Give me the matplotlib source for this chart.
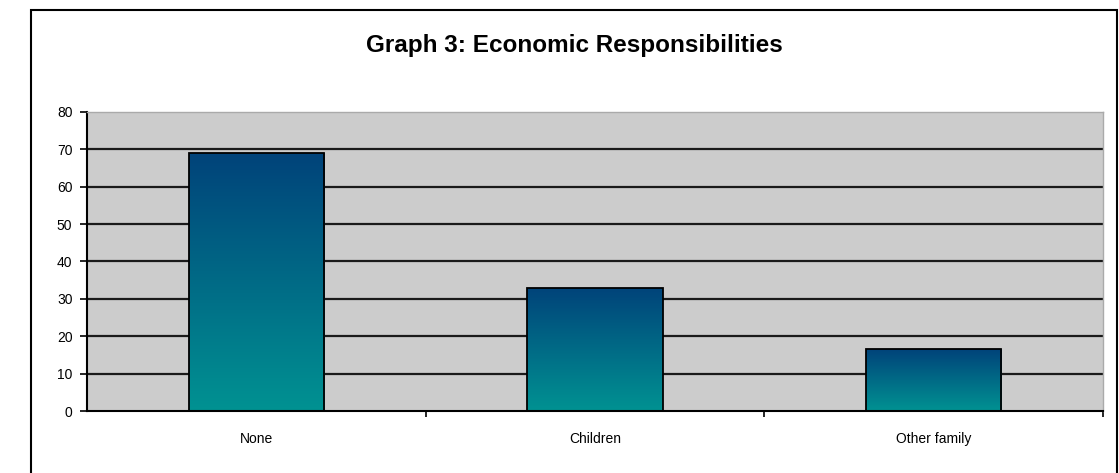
import numpy as np
import matplotlib.pyplot as plt
from matplotlib.colors import LinearSegmentedColormap
from matplotlib.patches import Rectangle

categories = ["None", "Children", "Other family"]
values = [69, 33, 16.5]
yticks = [0, 10, 20, 30, 40, 50, 60, 70, 80]

plt.rcParams['font.family'] = ['Liberation Sans', 'DejaVu Sans']

fig = plt.figure(figsize=(11.19, 4.73), dpi=100)

# outer chart border
fig.patches.append(Rectangle((31 / 1119, -0.01), (1117 - 31) / 1119, 1 - 10 / 473 + 0.01,
                             transform=fig.transFigure, fill=False,
                             edgecolor='black', linewidth=1.5))

ax = fig.add_axes([87 / 1119, (473 - 411) / 473, (1103 - 87) / 1119, (411 - 112) / 473])
ax.set_facecolor('#cccccc')

x = np.arange(len(categories))

for y in yticks[1:-1]:
    ax.axhline(y, color='#1a1a1a', linewidth=1.6, zorder=1)

# bars with vertical gradient
cmap = LinearSegmentedColormap.from_list('bar', ['#009292', '#00437a'])
grad = np.linspace(0, 1, 256).reshape(-1, 1)
bars = ax.bar(x, values, width=0.4, color='none', edgecolor='black', linewidth=1.3, zorder=3)
for b in bars:
    x0, y0 = b.get_x(), b.get_y()
    w, h = b.get_width(), b.get_height()
    im = ax.imshow(grad, extent=[x0, x0 + w, y0, y0 + h], origin='lower',
                   cmap=cmap, aspect='auto', zorder=2)
    im.set_clip_path(b)
ax.set_xlim(-0.5, len(categories) - 0.5)
ax.set_ylim(0, 80)

ax.set_yticks(yticks)
ax.set_yticklabels([str(t) for t in yticks], fontsize=10)
ax.set_xticks(x)
ax.set_xticklabels(categories, fontsize=10)
ax.tick_params(axis='x', length=0, pad=15)
ax.tick_params(axis='y', length=5, width=1.2, pad=5.5)
# category separator ticks
ax.set_xticks([0.5, 1.5, 2.5], minor=True)
ax.tick_params(axis='x', which='minor', length=4, width=1.2, direction='out')

ax.spines['left'].set_linewidth(1.5)
ax.spines['bottom'].set_linewidth(1.5)
ax.spines['top'].set_color('#aaaaaa')
ax.spines['right'].set_color('#aaaaaa')
ax.spines['top'].set_linewidth(1)
ax.spines['right'].set_linewidth(1)

fig.text(574 / 1119, 1 - 52 / 473, "Graph 3: Economic Responsibilities",
         ha='center', va='baseline', fontsize=17.5, fontweight='bold')

fig.savefig('out.png', dpi=100)
